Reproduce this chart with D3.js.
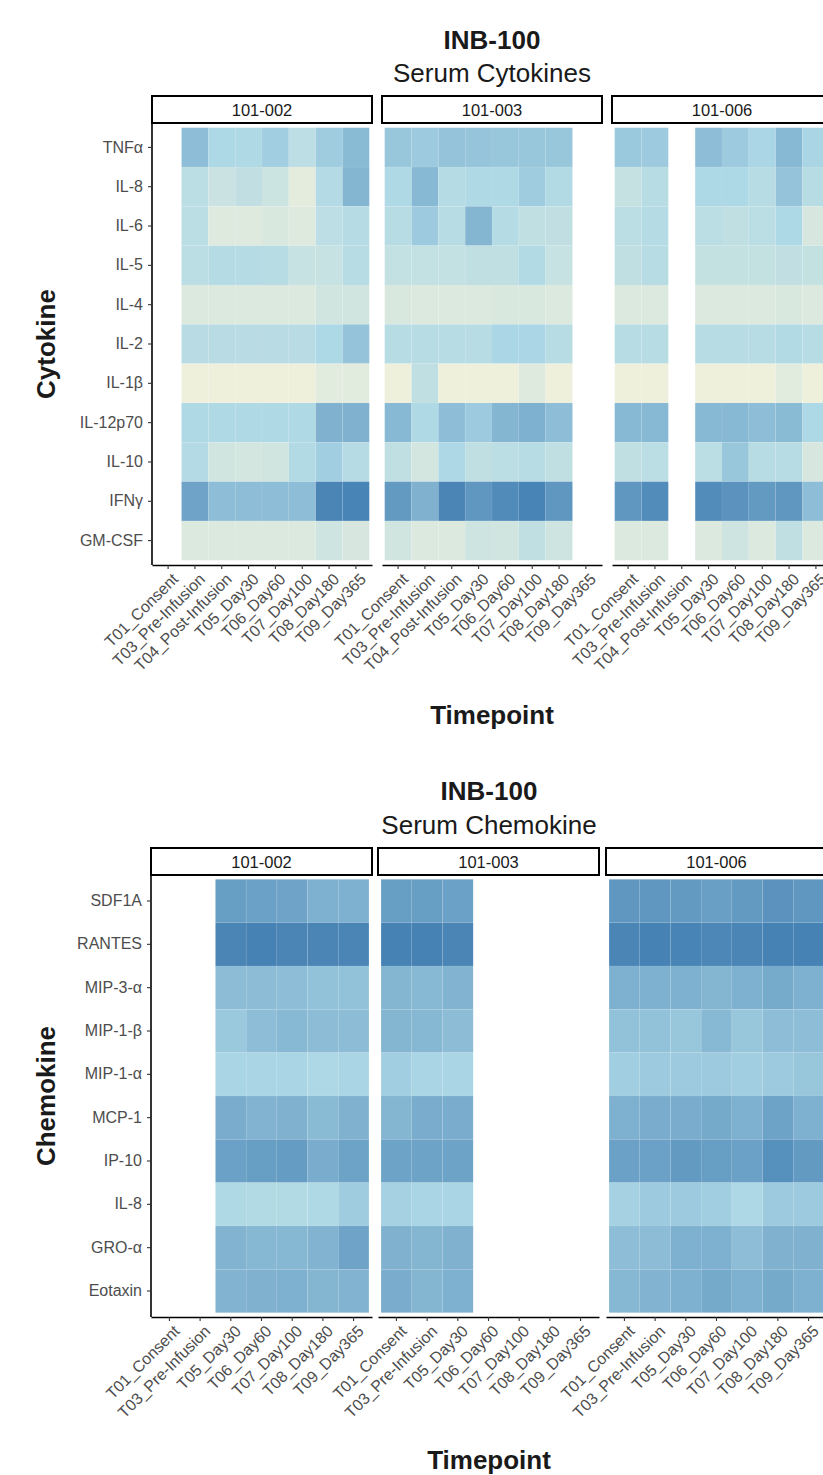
<!DOCTYPE html>
<html>
<head>
<meta charset="utf-8">
<script src="https://cdn.jsdelivr.net/npm/d3@7"></script>
<style>
  html, body { margin: 0; padding: 0; background: #ffffff; }
  svg { display: block; font-family: "Liberation Sans", Arial, sans-serif; }
</style>
</head>
<body>
<svg id="chart" width="823" height="1475"></svg>
<script>
// ---------- data ----------
const patients = ["101-002", "101-003", "101-006"];

const cytokines = ["TNFα", "IL-8", "IL-6", "IL-5", "IL-4", "IL-2", "IL-1β", "IL-12p70", "IL-10", "IFNγ", "GM-CSF"];
const cytoTimepoints = ["T01_Consent", "T03_Pre-Infusion", "T04_Post-Infusion", "T05_Day30", "T06_Day60", "T07_Day100", "T08_Day180", "T09_Day365"];

const chemokines = ["SDF1A", "RANTES", "MIP-3-α", "MIP-1-β", "MIP-1-α", "MCP-1", "IP-10", "IL-8", "GRO-α", "Eotaxin"];
const chemoTimepoints = ["T01_Consent", "T03_Pre-Infusion", "T05_Day30", "T06_Day60", "T07_Day100", "T08_Day180", "T09_Day365"];

// relative level (0 = low, 10 = high); rows follow the analyte arrays
const cytoTimes002 = ["T03_Pre-Infusion", "T04_Post-Infusion", "T05_Day30", "T06_Day60", "T07_Day100", "T08_Day180", "T09_Day365"];
const cytoVals002 = [
  [6.5, 5.0, 4.8, 5.6, 3.8, 5.7, 6.7],
  [3.9, 2.8, 3.5, 2.7, 0.8, 4.5, 7.0],
  [3.9, 1.2, 1.2, 1.6, 1.2, 3.8, 4.3],
  [3.9, 4.4, 4.4, 4.2, 3.0, 3.0, 4.2],
  [1.4, 1.4, 1.4, 1.4, 1.4, 2.2, 2.2],
  [4.1, 4.1, 4.1, 4.1, 4.1, 5.0, 6.2],
  [0.0, 0.0, 0.0, 0.0, 0.0, 1.0, 1.0],
  [4.8, 4.8, 4.8, 4.8, 4.8, 7.2, 7.2],
  [4.5, 2.2, 2.0, 2.2, 4.6, 5.6, 4.3],
  [8.0, 6.5, 6.5, 6.5, 6.5, 9.8, 9.9],
  [1.4, 1.4, 1.4, 1.4, 1.4, 2.5, 1.8]
];
const cytoTimes003 = ["T01_Consent", "T03_Pre-Infusion", "T04_Post-Infusion", "T05_Day30", "T06_Day60", "T07_Day100", "T08_Day180"];
const cytoVals003 = [
  [6.0, 5.8, 6.2, 6.1, 6.0, 6.0, 6.0],
  [4.8, 6.8, 4.4, 4.8, 4.8, 5.7, 4.6],
  [4.2, 5.8, 4.2, 7.0, 4.4, 3.6, 3.5],
  [3.3, 3.3, 3.3, 3.6, 3.6, 4.6, 3.0],
  [1.6, 1.4, 1.4, 1.4, 1.6, 1.7, 1.4],
  [4.2, 4.2, 4.2, 4.2, 5.1, 5.1, 4.2],
  [0.0, 3.6, 0.0, 0.0, 0.0, 1.2, 0.0],
  [6.8, 4.8, 6.5, 5.8, 7.0, 7.3, 6.5],
  [3.6, 2.0, 4.9, 3.6, 3.9, 4.2, 3.6],
  [8.6, 7.2, 9.8, 8.8, 9.5, 9.9, 8.8],
  [2.2, 1.4, 1.4, 2.5, 2.2, 3.6, 2.5]
];
const cytoTimes006 = ["T01_Consent", "T03_Pre-Infusion", "T05_Day30", "T06_Day60", "T07_Day100", "T08_Day180", "T09_Day365"];
const cytoVals006 = [
  [5.9, 5.8, 6.5, 5.8, 5.1, 6.8, 5.2],
  [3.1, 4.2, 5.0, 5.0, 4.2, 6.2, 4.2],
  [3.9, 4.4, 3.9, 3.6, 3.9, 5.0, 1.8],
  [3.6, 4.2, 3.2, 3.2, 3.2, 3.5, 3.2],
  [1.4, 1.4, 1.4, 1.4, 1.4, 1.6, 1.4],
  [4.2, 4.2, 4.2, 4.2, 4.2, 4.6, 4.2],
  [0.0, 0.0, 0.0, 0.0, 0.0, 1.0, 0.0],
  [6.8, 6.8, 6.8, 6.8, 6.5, 6.7, 5.0],
  [3.6, 3.9, 3.9, 6.0, 4.2, 4.2, 1.8],
  [8.8, 9.4, 9.4, 9.0, 8.6, 8.8, 6.5],
  [1.4, 1.4, 1.4, 2.5, 1.4, 3.6, 1.4]
];

const chemoTimes002 = ["T05_Day30", "T06_Day60", "T07_Day100", "T08_Day180", "T09_Day365"];
const chemoVals002 = [
  [8.4, 8.2, 8.0, 7.3, 7.3],
  [9.8, 10.0, 9.8, 9.8, 9.8],
  [6.6, 6.6, 6.5, 6.3, 6.3],
  [5.9, 6.5, 6.8, 6.6, 6.6],
  [5.2, 5.2, 5.2, 4.9, 5.2],
  [7.5, 7.1, 7.2, 6.7, 7.2],
  [8.2, 8.4, 8.5, 7.5, 8.1],
  [4.8, 4.6, 4.6, 4.8, 5.7],
  [7.1, 6.9, 6.9, 7.1, 8.0],
  [7.1, 7.2, 7.3, 7.0, 7.1]
];
const chemoTimes003 = ["T01_Consent", "T03_Pre-Infusion", "T05_Day30"];
const chemoVals003 = [
  [8.4, 8.4, 8.2],
  [10.0, 10.0, 9.8],
  [7.0, 6.8, 7.1],
  [7.0, 6.9, 6.6],
  [5.6, 5.2, 5.2],
  [7.0, 7.5, 7.5],
  [8.1, 8.1, 8.1],
  [5.4, 5.2, 5.2],
  [7.2, 7.0, 7.2],
  [7.5, 7.0, 7.3]
];
const chemoTimes006 = ["T01_Consent", "T03_Pre-Infusion", "T05_Day30", "T06_Day60", "T07_Day100", "T08_Day180", "T09_Day365"];
const chemoVals006 = [
  [8.8, 8.8, 8.6, 8.3, 8.6, 9.0, 8.8],
  [9.8, 10.0, 9.9, 9.7, 9.8, 10.0, 10.0],
  [7.3, 7.3, 7.3, 7.0, 7.3, 7.6, 7.3],
  [6.3, 6.3, 6.0, 6.8, 6.0, 6.5, 6.5],
  [5.6, 5.8, 5.8, 5.8, 5.6, 5.8, 6.0],
  [7.3, 7.5, 7.5, 7.7, 7.3, 8.1, 7.3],
  [8.2, 8.2, 8.6, 8.4, 8.2, 9.2, 8.6],
  [5.4, 5.8, 5.8, 5.6, 4.9, 5.8, 5.8],
  [6.5, 6.6, 7.3, 7.3, 6.5, 7.2, 7.2],
  [6.9, 7.1, 7.3, 7.7, 7.3, 7.7, 7.3]
];

// ---------- drawing ----------
const svg = d3.select("#chart");
svg.append("rect").attr("width", 823).attr("height", 1475).attr("fill", "#ffffff");

const color = d3.scaleLinear()
  .domain([0, 5, 10])
  .range(["#eef0dc", "#add8e6", "#4682b4"])
  .interpolate(d3.interpolateRgb)
  .clamp(true);

function drawHeatmap(cfg) {
  const g = svg.append("g");
  const centerX = (cfg.panelXs[0] + cfg.panelXs[cfg.panelXs.length - 1] + cfg.panelW) / 2;

  g.append("text").attr("x", centerX).attr("y", cfg.titleY)
    .attr("text-anchor", "middle").attr("font-size", 26).attr("font-weight", "bold")
    .attr("fill", "#1a1a1a").text(cfg.title);
  g.append("text").attr("x", centerX).attr("y", cfg.subY)
    .attr("text-anchor", "middle").attr("font-size", 26)
    .attr("fill", "#1a1a1a").text(cfg.subtitle);

  const y = d3.scaleBand().domain(cfg.rows)
    .range([cfg.stripBottom, cfg.panelBottom]).paddingInner(0).paddingOuter(cfg.yPad);

  cfg.panels.forEach((p, i) => {
    const px = cfg.panelXs[i];
    const x = d3.scaleBand().domain(cfg.timepoints)
      .range([px, px + cfg.panelW]).paddingInner(0).paddingOuter(cfg.xPad);

    // tiles
    const cells = [];
    p.vals.forEach((row, r) => row.forEach((v, c) => cells.push({ row: cfg.rows[r], time: p.times[c], v })));
    g.append("g").selectAll("rect").data(cells).join("rect")
      .attr("x", d => x(d.time)).attr("y", d => y(d.row))
      .attr("width", x.bandwidth()).attr("height", y.bandwidth())
      .attr("fill", d => color(d.v))
      .attr("stroke", "#ffffff").attr("stroke-opacity", 0.1).attr("stroke-width", 0.6);

    // strip
    g.append("rect").attr("x", px).attr("y", cfg.stripTop)
      .attr("width", cfg.panelW).attr("height", cfg.stripBottom - cfg.stripTop)
      .attr("fill", "#ffffff").attr("stroke", "#000000").attr("stroke-width", 2);
    g.append("text").attr("x", px + cfg.panelW / 2).attr("y", (cfg.stripTop + cfg.stripBottom) / 2)
      .attr("text-anchor", "middle").attr("dominant-baseline", "central")
      .attr("font-size", 16.5).attr("fill", "#1a1a1a").text(patients[i]);

    // x axis
    const xa = g.append("g").attr("transform", `translate(0,${cfg.panelBottom})`)
      .call(d3.axisBottom(x).tickSizeInner(4).tickSizeOuter(0));
    xa.select(".domain").attr("stroke", "#000000").attr("stroke-width", 1.6);
    xa.selectAll(".tick line").attr("stroke", "#333333").attr("stroke-width", 1.1);
    xa.selectAll(".tick text")
      .attr("x", 0).attr("y", 0).attr("dy", "0.72em")
      .attr("transform", "translate(3,7) rotate(-45)")
      .attr("text-anchor", "end")
      .attr("font-size", 16).attr("fill", "#4d4d4d")
      .attr("font-family", "'Liberation Sans', Arial, sans-serif");

    if (i === 0) {
      const ya = g.append("g").attr("transform", `translate(${px},0)`)
        .call(d3.axisLeft(y).tickSizeInner(4).tickSizeOuter(0));
      ya.select(".domain").attr("stroke", "#000000").attr("stroke-width", 1.6)
        .attr("d", `M0,${cfg.stripBottom}V${cfg.panelBottom}`);
      ya.selectAll(".tick line").attr("stroke", "#333333").attr("stroke-width", 1.1);
      ya.selectAll(".tick text").attr("x", -9)
        .attr("font-size", 16).attr("fill", "#4d4d4d")
        .attr("font-family", "'Liberation Sans', Arial, sans-serif");
    }
  });

  g.append("text").attr("x", centerX).attr("y", cfg.xTitleY)
    .attr("text-anchor", "middle").attr("font-size", 26).attr("font-weight", "bold")
    .attr("fill", "#1a1a1a").text("Timepoint");
  g.append("text")
    .attr("transform", `translate(${cfg.yTitleX},${(cfg.stripBottom + cfg.panelBottom) / 2}) rotate(-90)`)
    .attr("text-anchor", "middle").attr("dominant-baseline", "central")
    .attr("font-size", 26).attr("font-weight", "bold")
    .attr("fill", "#1a1a1a").text(cfg.yTitle);
}

drawHeatmap({
  title: "INB-100", subtitle: "Serum Cytokines", titleY: 49, subY: 82,
  stripTop: 96, stripBottom: 123, panelBottom: 565,
  panelXs: [152, 382, 612], panelW: 220, xPad: 0.1, yPad: 0.12,
  rows: cytokines, timepoints: cytoTimepoints,
  panels: [
    { times: cytoTimes002, vals: cytoVals002 },
    { times: cytoTimes003, vals: cytoVals003 },
    { times: cytoTimes006, vals: cytoVals006 }
  ],
  xTitleY: 724, yTitle: "Cytokine", yTitleX: 46
});

drawHeatmap({
  title: "INB-100", subtitle: "Serum Chemokine", titleY: 800, subY: 834,
  stripTop: 848, stripBottom: 875, panelBottom: 1317,
  panelXs: [151, 378, 606], panelW: 221, xPad: 0.1, yPad: 0.1,
  rows: chemokines, timepoints: chemoTimepoints,
  panels: [
    { times: chemoTimes002, vals: chemoVals002 },
    { times: chemoTimes003, vals: chemoVals003 },
    { times: chemoTimes006, vals: chemoVals006 }
  ],
  xTitleY: 1469, yTitle: "Chemokine", yTitleX: 46
});
</script>
</body>
</html>
